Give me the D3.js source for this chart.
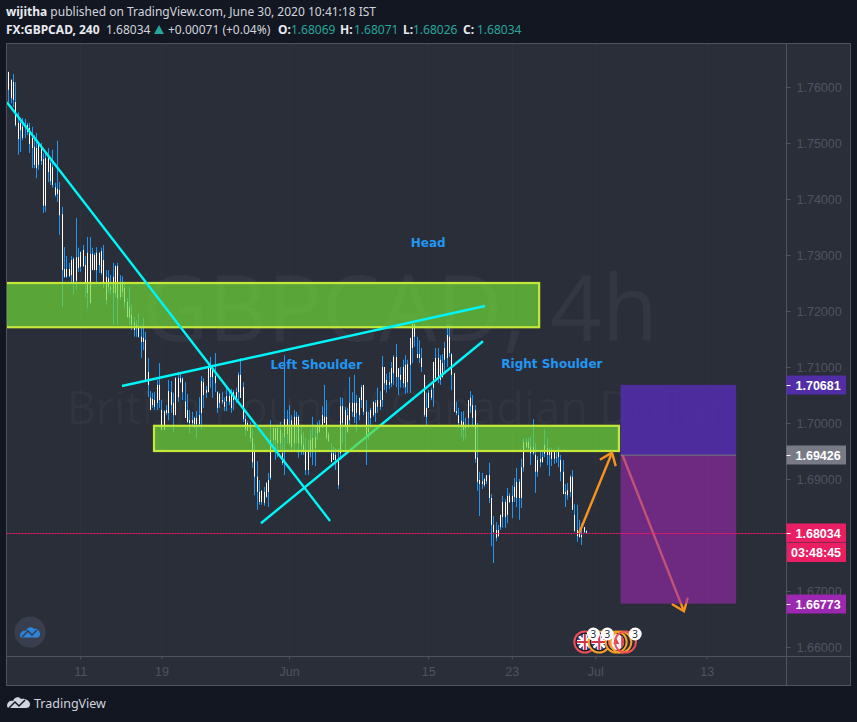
<!DOCTYPE html>
<html><head><meta charset="utf-8">
<script src="https://cdn.jsdelivr.net/npm/d3@7/dist/d3.min.js"></script>
<style>html,body{margin:0;padding:0;background:#131722}svg{display:block}</style>
</head><body><svg id="c" width="857" height="722"></svg>
<script>
// Candle values in 1/10000 above 1.0000 (7627 = 1.7627), one entry per 4h bar
const highs=[7627,7613,7623,7609,7555,7545,7545,7543,7536,7536,7529,7514,7518,7502,7500,7482,7482,7491,7473,7488,7429,7504,7430,7386,7314,7298,7286,7298,7296,7366,7313,7307,7318,7298,7332,7332,7313,7304,7314,7305,7313,7318,7273,7273,7264,7286,7282,7286,7264,7262,7252,7223,7243,7211,7189,7184,7196,7170,7188,7163,7116,7057,7054,7055,7077,7107,7041,7023,7032,7077,7075,7054,7082,7091,7089,7082,7073,7052,7023,7020,7011,7021,7046,7084,7080,7066,7104,7118,7104,7125,7057,7054,7055,7046,7063,7059,7061,7059,7063,7091,7116,7073,7014,7004,7002,6989,6963,6932,6898,6880,6886,6895,6911,7005,6993,6991,6993,7002,6982,7121,7023,7032,7014,7023,7020,7014,6993,6984,6973,6970,6988,7011,6993,7002,7005,7030,7068,7041,6984,6964,6957,6955,6955,7046,7045,7029,7027,7082,7055,7086,7050,7045,7068,7068,7041,7020,7027,7038,7041,7063,7057,7120,7100,7088,7091,7109,7121,7141,7098,7100,7113,7121,7113,7152,7177,7177,7154,7148,7134,7086,7054,7059,7063,7109,7134,7134,7121,7123,7145,7175,7177,7125,7089,7038,7027,7020,7021,7009,7041,7057,7050,7032,7000,6913,6911,6902,6907,6929,6873,6834,6823,6818,6836,6870,6864,6884,6875,6888,6902,6920,6900,6936,6973,6973,6973,6975,7007,6964,6941,6948,6948,6989,6973,6955,6955,6948,6948,6957,6943,6934,6891,6893,6907,6916,6855,6854,6827,6821,6814,6809];
const lows=[7573,7571,7564,7529,7479,7484,7505,7509,7514,7482,7455,7455,7437,7452,7461,7375,7377,7430,7425,7420,7404,7395,7336,7207,7259,7259,7261,7250,7229,7238,7270,7270,7279,7225,7205,7214,7273,7273,7250,7268,7264,7241,7211,7232,7229,7175,7225,7175,7220,7225,7205,7188,7175,7166,7154,7154,7152,7116,7130,7077,7046,7023,7027,7023,7023,7027,6988,6988,7014,7005,7018,6984,7014,7038,7071,7041,7009,7000,6982,6993,6991,6973,6993,6989,7027,7045,7055,7063,7045,7055,7018,7027,7034,7021,7021,7032,7018,7023,7036,7041,7045,7002,6977,6986,6966,6920,6871,6845,6854,6854,6852,6866,6850,6898,6952,6934,6939,6952,6925,6907,6964,6961,6952,6952,6964,6938,6943,6943,6907,6907,6939,6925,6923,6970,6982,6991,7000,6970,6966,6930,6934,6916,6882,6934,6964,6952,6982,6993,7011,7000,6984,7005,7027,7014,6925,6970,6991,7011,7002,7018,7023,7029,7059,7054,7061,7064,7068,7064,7050,7063,7063,7052,7054,7054,7107,7136,7116,7107,7091,7011,6996,7027,7041,7029,7073,7071,7068,7080,7091,7100,7118,7059,7020,7014,6991,6975,6968,6973,6991,7018,6996,6929,6879,6834,6882,6886,6891,6857,6780,6750,6789,6796,6809,6813,6813,6821,6857,6830,6859,6850,6827,6848,6913,6955,6952,6925,6943,6875,6904,6921,6929,6939,6925,6905,6923,6927,6929,6921,6896,6873,6850,6863,6868,6845,6805,6788,6796,6782,6804,6802];
const bodyTops=[7627,7613,7609,7573,7536,7536,7529,7532,7532,7527,7509,7493,7491,7500,7491,7471,7473,7473,7464,7457,7421,7418,7416,7373,7275,7275,7275,7291,7293,7296,7296,7305,7309,7282,7304,7302,7302,7300,7304,7304,7307,7291,7261,7259,7243,7261,7280,7280,7250,7252,7241,7216,7207,7193,7179,7175,7171,7154,7152,7148,7091,7045,7043,7041,7068,7068,7023,7021,7023,7057,7055,7036,7080,7080,7080,7079,7038,7023,7005,7005,7009,7009,7014,7075,7073,7059,7100,7104,7095,7084,7055,7052,7041,7038,7048,7048,7055,7055,7055,7086,7086,7064,7007,7000,6996,6973,6948,6904,6877,6879,6877,6893,6898,6970,6991,6991,6991,6988,6946,7007,7007,6996,7005,7011,7011,7011,6979,6961,6948,6948,6970,6973,6975,6996,6996,7014,7011,7011,6980,6946,6946,6943,6934,7030,7030,7023,7014,7036,7036,7036,7036,7045,7064,7068,7020,6991,7023,7038,7036,7041,7041,7100,7100,7077,7073,7098,7118,7118,7098,7086,7100,7104,7105,7152,7177,7177,7123,7123,7116,7086,7027,7054,7059,7109,7116,7116,7113,7107,7134,7157,7154,7123,7089,7021,7014,7004,7002,6996,7041,7045,7032,7023,6938,6898,6896,6900,6907,6907,6866,6818,6809,6809,6836,6859,6859,6870,6870,6870,6886,6895,6895,6921,6966,6966,6966,6957,6957,6943,6934,6936,6939,6961,6955,6948,6948,6948,6939,6948,6934,6913,6877,6880,6904,6904,6836,6809,6809,6800,6814,6807];
const bodyBottoms=[7595,7580,7577,7532,7507,7523,7509,7529,7520,7498,7491,7461,7455,7461,7468,7388,7388,7448,7432,7425,7407,7409,7371,7273,7261,7261,7262,7264,7252,7254,7277,7279,7280,7250,7232,7214,7273,7273,7273,7282,7268,7250,7220,7243,7238,7232,7232,7223,7225,7234,7216,7189,7188,7175,7166,7170,7154,7145,7145,7077,7068,7023,7032,7029,7036,7041,6988,6988,7018,7018,7032,7014,7014,7046,7073,7055,7009,7002,7000,7000,6998,6998,6998,7018,7050,7054,7055,7082,7082,7071,7027,7036,7038,7029,7039,7038,7027,7041,7045,7055,7045,7007,6988,6986,6973,6930,6904,6877,6859,6859,6857,6868,6877,6902,6970,6970,6964,6964,6929,6975,6980,6964,6957,6964,6993,6964,6961,6952,6916,6916,6952,6952,6955,6982,6984,6996,7000,6973,6968,6930,6934,6934,6889,6946,7000,6996,6984,7005,7020,7011,7018,7014,7041,7020,6973,6984,7009,7014,7018,7029,7029,7041,7071,7068,7068,7071,7089,7082,7082,7077,7071,7064,7073,7104,7134,7154,7116,7116,7100,7014,7011,7027,7045,7063,7080,7080,7077,7082,7113,7116,7125,7086,7020,7018,7000,6996,6988,6991,7009,7030,7009,6936,6895,6891,6891,6889,6896,6866,6818,6805,6795,6798,6814,6832,6832,6836,6859,6859,6868,6866,6866,6866,6921,6957,6955,6946,6946,6913,6913,6930,6930,6945,6943,6943,6936,6936,6938,6939,6913,6873,6873,6871,6877,6845,6807,6798,6796,6796,6805,6804];
const priceTicks=[1.76,1.75,1.74,1.73,1.72,1.71,1.70,1.69,1.68,1.67,1.66];
const timeTickBars=[31,66,121,181,217,253,301];
const timeTickLabels=["11","19","Jun","15","23","Jul","13"];
// drawings, in [bar, price]
const zones=[{bars:[-1,228.8],prices:[1.7250,1.7171]},{bars:[62.8,263.2],prices:[1.6995,1.6950]}];
const trendUnderZones=[[[108.9,1.6821],[204.6,1.7146]]];
const trendOverZones=[[[-0.6,1.7573],[138.7,1.6825]],[[49,1.7066],[205.5,1.7209]]];
const arrows=[[[246,1.6803],[260.2,1.6947]],[[264.5,1.6945],[291.2,1.6664]]];
const positionBars=[263.9,313.7];
const targetPrice=1.70681, entryPrice=1.69426, stopPrice=1.66773, lastPrice=1.68034;
const notes=[["Head",173.5,1.7314],["Left Shoulder",113,1.7096],["Right Shoulder",212.5,1.7098]];
const eventRings=[[248.5,"#f0505a","uk"],[254.7,"#f7a128","uk"],[262,"#f7a128","ca"],[264,"#f7a128","none"],[266,"#f0505a","none"]];
const eventBubbles=[[252.2,"3"],[258.2,"3"],[270.2,"3"]];

const toPrice=v=>1+v/10000;
const L=6.5,R=786.5,T=43.5,B=656.5,AR=850.5,AB=685.5;
const svg=d3.select("#c");
const x=d3.scaleLinear().domain([0,249]).range([8.3,586]);
const y=d3.scaleLinear().domain([1.76,1.66]).range([87,647]);
const px=i=>Math.round(x(i))+0.5;
const sans="'Noto Sans','Open Sans',sans-serif";
const defs=svg.append("defs");
defs.append("clipPath").attr("id","plot").append("rect").attr("x",L).attr("y",T).attr("width",R-L).attr("height",B-T);
svg.append("rect").attr("width",857).attr("height",722).attr("fill","#131722");
svg.append("rect").attr("x",L).attr("y",T).attr("width",AR-L).attr("height",AB-T).attr("fill","#2a2e39");

const plot=svg.append("g").attr("clip-path","url(#plot)");
plot.selectAll(".grid").data(timeTickBars).join("line").attr("class","grid")
 .attr("x1",d=>px(d)).attr("x2",d=>px(d)).attr("y1",T).attr("y2",B).attr("stroke","#2e323d");
plot.append("text").attr("x",400).attr("y",341).attr("text-anchor","middle").attr("font-family","'Open Sans',sans-serif")
 .attr("font-size",91).attr("fill","#ffffff").attr("fill-opacity",.045).text("GBPCAD, 4h");
plot.append("text").attr("x",396).attr("y",424).attr("text-anchor","middle").attr("font-family","'Open Sans',sans-serif")
 .attr("font-size",45).attr("fill","#ffffff").attr("fill-opacity",.035).text("British Pound / Canadian Dollar");

const bars=highs.map((h,i)=>({i,h:toPrice(h),l:toPrice(lows[i]),t:toPrice(bodyTops[i]),b:toPrice(bodyBottoms[i])}));
plot.selectAll(".wick").data(bars).join("line").attr("class","wick")
 .attr("x1",d=>px(d.i)).attr("x2",d=>px(d.i)).attr("y1",d=>y(d.h)).attr("y2",d=>y(d.l)).attr("stroke","#2196f3");
plot.selectAll(".body").data(bars).join("line").attr("class","body")
 .attr("x1",d=>px(d.i)).attr("x2",d=>px(d.i)).attr("y1",d=>y(d.t)).attr("y2",d=>y(d.b)).attr("stroke","#ffffff");

const lineGen=d3.line().x(d=>x(d[0])).y(d=>y(d[1]));
const drawTrend=data=>plot.append("g").selectAll("path").data(data).join("path").attr("d",lineGen)
 .attr("stroke","#00f5f8").attr("stroke-width",2.4).attr("fill","none");
drawTrend(trendUnderZones);
plot.selectAll(".zone").data(zones).join("rect").attr("class","zone")
 .attr("x",d=>x(d.bars[0])).attr("y",d=>y(d.prices[0])).attr("width",d=>x(d.bars[1])-x(d.bars[0])).attr("height",d=>y(d.prices[1])-y(d.prices[0]))
 .attr("fill","#6fd938").attr("fill-opacity",.7).attr("stroke","#c3e83a").attr("stroke-width",2.2);
drawTrend(trendOverZones);

const arrow=plot.append("g").attr("stroke","#f7931e").attr("stroke-width",2.4).attr("fill","none");
arrows.forEach(a=>{
  const p0=[x(a[0][0]),y(a[0][1])],p1=[x(a[1][0]),y(a[1][1])];
  const ang=Math.atan2(p1[1]-p0[1],p1[0]-p0[0]),len=14,sp=.66;
  arrow.append("path").attr("d",d3.line()([p0,p1]));
  arrow.append("path").attr("d",d3.line()([
    [p1[0]-len*Math.cos(ang-sp),p1[1]-len*Math.sin(ang-sp)],p1,
    [p1[0]-len*Math.cos(ang+sp),p1[1]-len*Math.sin(ang+sp)]]));
});
const pos=plot.append("g");
pos.append("rect").attr("x",x(positionBars[0])).attr("width",x(positionBars[1])-x(positionBars[0]))
 .attr("y",y(targetPrice)).attr("height",y(entryPrice)-y(targetPrice)).attr("fill","#512da8").attr("fill-opacity",.9);
pos.append("rect").attr("x",x(positionBars[0])).attr("width",x(positionBars[1])-x(positionBars[0]))
 .attr("y",y(entryPrice)).attr("height",y(stopPrice)-y(entryPrice)).attr("fill","#9c27b0").attr("fill-opacity",.6);
pos.append("line").attr("x1",x(positionBars[0])).attr("x2",x(positionBars[1])).attr("y1",y(entryPrice)).attr("y2",y(entryPrice)).attr("stroke","#787b86");
plot.append("line").attr("x1",L).attr("x2",R).attr("y1",Math.round(y(lastPrice))+.5).attr("y2",Math.round(y(lastPrice))+.5)
 .attr("stroke","#ff1464").attr("stroke-dasharray","2 1");

plot.selectAll(".note").data(notes).join("text").attr("class","note")
 .attr("x",d=>x(d[1])).attr("y",d=>y(d[2])).attr("font-family","'DejaVu Sans',sans-serif").attr("font-weight","bold")
 .attr("font-size",12).attr("fill","#2196f3").text(d=>d[0]);

// event markers
const ev=plot.append("g");
eventRings.forEach((r,k)=>{
  const cx=x(r[0]),cy=642,id="ev"+k;
  defs.append("clipPath").attr("id",id).append("circle").attr("cx",cx).attr("cy",cy).attr("r",8);
  const g=ev.append("g");
  g.append("circle").attr("cx",cx).attr("cy",cy).attr("r",10.5).attr("fill","#1b1e28").attr("stroke",r[1]).attr("stroke-width",2);
  const f=g.append("g").attr("clip-path",`url(#${id})`);
  if(r[2]==="uk"){
    f.append("rect").attr("x",cx-9).attr("y",cy-9).attr("width",18).attr("height",18).attr("fill","#3b4a8c");
    [[-9,-9,9,9],[-9,9,9,-9]].forEach(l=>f.append("line").attr("x1",cx+l[0]).attr("y1",cy+l[1]).attr("x2",cx+l[2]).attr("y2",cy+l[3]).attr("stroke","#fff").attr("stroke-width",2.6));
    f.append("rect").attr("x",cx-9).attr("y",cy-2).attr("width",18).attr("height",4).attr("fill","#fff");
    f.append("rect").attr("x",cx-2).attr("y",cy-9).attr("width",4).attr("height",18).attr("fill","#fff");
    f.append("rect").attr("x",cx-9).attr("y",cy-1).attr("width",18).attr("height",2).attr("fill","#d8334a");
    f.append("rect").attr("x",cx-1).attr("y",cy-9).attr("width",2).attr("height",18).attr("fill","#d8334a");
  } else if(r[2]==="ca"){
    f.append("rect").attr("x",cx-9).attr("y",cy-9).attr("width",18).attr("height",18).attr("fill","#f5f5f5");
    f.append("rect").attr("x",cx-9).attr("y",cy-9).attr("width",4).attr("height",18).attr("fill","#e0404a");
    f.append("rect").attr("x",cx+5).attr("y",cy-9).attr("width",4).attr("height",18).attr("fill","#e0404a");
    f.append("path").attr("d",`M${cx},${cy-4}L${cx+3},${cy+2}H${cx-3}Z`).attr("fill","#e0404a");
  } else { g.select("circle").attr("fill","none"); }
});
eventBubbles.forEach(b=>{
  const g=ev.append("g"),cx=x(b[0]),cy=634;
  g.append("circle").attr("cx",cx).attr("cy",cy).attr("r",6.5).attr("fill","#fff");
  g.append("text").attr("x",cx).attr("y",cy+3.5).attr("text-anchor","middle").attr("font-family",sans).attr("font-size",10).attr("fill","#2a2e39").text(b[1]);
});
// chart logo badge
const logo=plot.append("g").attr("transform","translate(30,632)");
logo.append("circle").attr("r",15.5).attr("fill","#3a3f50");
logo.append("path").attr("d","M-10,4C-10,0 -7,-2 -4,-1C-3,-5 2,-6 4,-3C7,-4 10,-1 10,2C10,5 8,5.5 6,5.5L-7,5.5C-9,5.5 -10,5 -10,4Z").attr("fill","#2a86dd");
logo.append("path").attr("d","M-8,5L-2,-1L2,3L7,-2").attr("stroke","#3a3f50").attr("stroke-width",1.6).attr("fill","none");

// frames
svg.append("rect").attr("x",L).attr("y",T).attr("width",AR-L).attr("height",AB-T).attr("fill","none").attr("stroke","#50535e");
svg.append("line").attr("x1",R).attr("x2",R).attr("y1",T).attr("y2",AB).attr("stroke","#50535e");
svg.append("line").attr("x1",L).attr("x2",AR).attr("y1",B).attr("y2",B).attr("stroke","#50535e");

// axes: a price tick hidden behind a price tag is not labelled
const tagPrices=[targetPrice,entryPrice,lastPrice,stopPrice];
const shownTicks=priceTicks.filter(p=>tagPrices.every(t=>Math.abs(y(t)-y(p))>8));
const tickFont="'Liberation Sans',Arial,sans-serif";
const yAxis=svg.append("g").attr("transform",`translate(${R},0)`).call(d3.axisRight(y).tickValues(shownTicks).tickSize(4).tickPadding(6).tickFormat(d3.format(".5f")));
const xAxis=svg.append("g").attr("transform",`translate(0,${B})`).call(d3.axisBottom(x).tickValues(timeTickBars).tickSize(3).tickPadding(8).tickFormat((d,i)=>timeTickLabels[i]));
[yAxis,xAxis].forEach(a=>{a.select(".domain").remove();a.selectAll("line").attr("stroke","#50535e");
  a.selectAll("text").attr("fill","#50535f").attr("font-family",tickFont).attr("font-size",12.5);});

// price tags
const tagColors=["#512da8","#787b86","#e91e63","#9c27b0"];
const tg=svg.append("g");
tagPrices.forEach((p,k)=>{
  const cy=Math.round(y(p));
  tg.append("rect").attr("x",R).attr("y",cy-9.5).attr("width",59.5).attr("height",19).attr("fill",tagColors[k]);
  tg.append("line").attr("x1",R).attr("x2",R+4).attr("y1",cy+.5).attr("y2",cy+.5).attr("stroke","#fff");
  tg.append("text").attr("x",R+9).attr("y",cy+4.5).attr("font-family",tickFont).attr("font-weight","bold").attr("font-size",12.5).attr("fill","#fff").text(d3.format(".5f")(p));
});
tg.append("rect").attr("x",R+.5).attr("y",543).attr("width",59).attr("height",19).attr("fill","#e91e63");
tg.append("text").attr("x",R+4.5).attr("y",557).attr("font-family",tickFont).attr("font-weight","bold").attr("font-size",12.5).attr("fill","#fff").text("03:48:45");

// header
const head=svg.append("g").attr("font-family",sans).attr("font-size",12).attr("fill","#d1d4dc");
const h1=head.append("text").attr("x",6).attr("y",16);
h1.append("tspan").attr("font-weight","bold").attr("fill","#e8eaf0").text("wijitha");
h1.append("tspan").text(" published on TradingView.com, June 30, 2020 10:41:18 IST");
head.append("text").attr("x",6).attr("y",34).attr("font-weight","bold").attr("fill","#e8eaf0").text("FX:GBPCAD, 240");
head.append("text").attr("x",106).attr("y",34).text("1.68034");
head.append("path").attr("d","M154,34L159,25L164,34Z").attr("fill","#26a69a");
head.append("text").attr("x",168).attr("y",34).text("+0.00071 (+0.04%)");
[["O:",278,"1.68069",291],["H:",340,"1.68071",354],["L:",403,"1.68026",413],["C:",463,"1.68034",477]].forEach(o=>{
  head.append("text").attr("x",o[1]).attr("y",34).attr("font-weight","bold").attr("fill","#e8eaf0").text(o[0]);
  head.append("text").attr("x",o[3]).attr("y",34).attr("fill","#26a69a").text(o[2]);
});

// footer
const foot=svg.append("g");
foot.append("path").attr("d","M7,706C7,702 10,700 13,701C14,697 19,696 21,699C25,698 30,701 30,704C30,707 28,708 26,708L10,708C8,708 7,707 7,706Z").attr("fill","#d1d4dc");
foot.append("path").attr("d","M9,708L15,702L19,706L25,700").attr("stroke","#131722").attr("stroke-width",1.5).attr("fill","none");
foot.append("text").attr("x",34).attr("y",708).attr("font-family",sans).attr("font-size",12.5).attr("fill","#d1d4dc").text("TradingView");
</script></body></html>
